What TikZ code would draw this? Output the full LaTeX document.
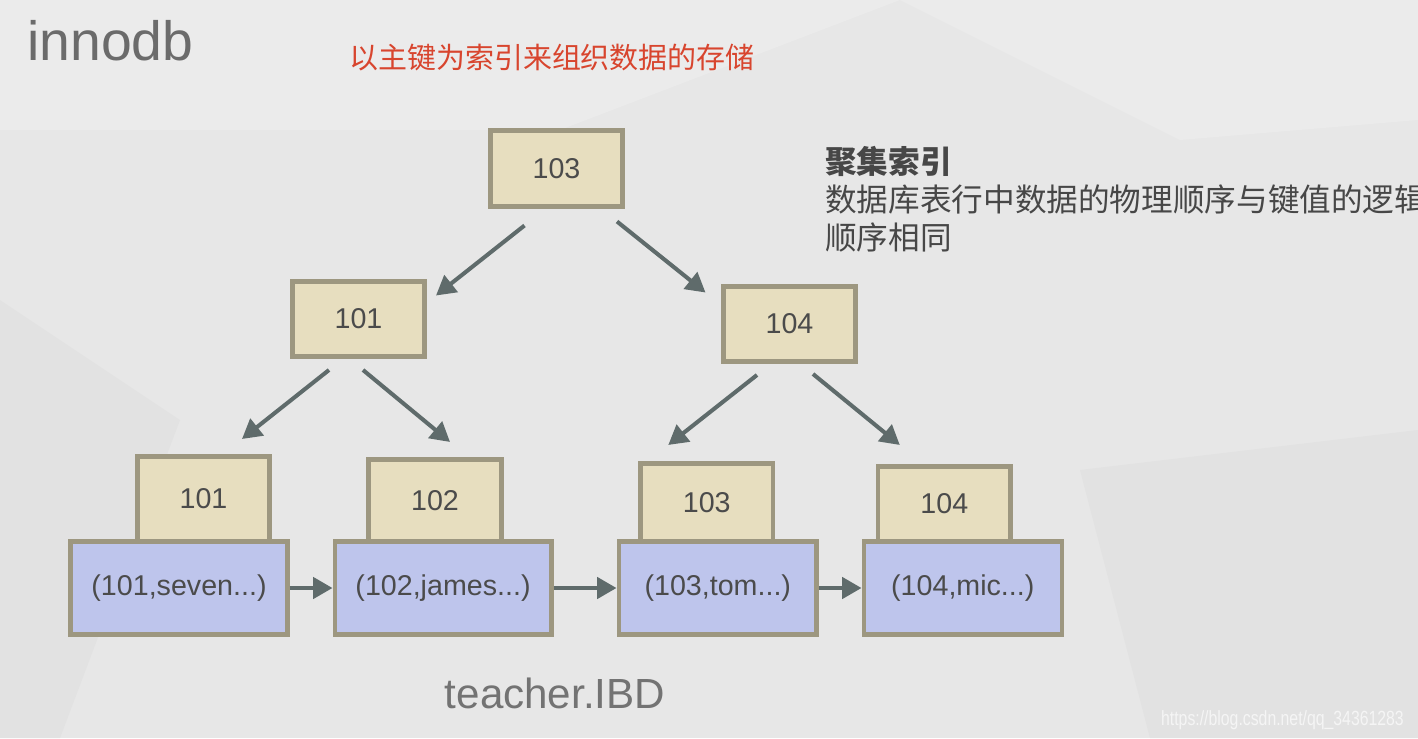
\documentclass[tikz,border=0pt]{standalone}
\usepackage{fontspec}
\setmainfont{Liberation Sans}
\newfontfamily\cjk{Noto Sans CJK SC}
\usetikzlibrary{positioning,calc,arrows.meta}
\definecolor{keyfill}{HTML}{E7DEBF}
\definecolor{recfill}{HTML}{BEC5EC}
\definecolor{boxline}{HTML}{9D9780}
\definecolor{arrowgray}{HTML}{5F6B6B}
\definecolor{txtgray}{HTML}{4B4B4B}
\definecolor{bggray}{HTML}{E7E7E7}
\definecolor{bglight}{HTML}{EBEBEB}
\definecolor{bgdark}{HTML}{E2E2E2}
\definecolor{notered}{HTML}{D8452E}
\tikzset{>={Triangle[length=11pt,width=12pt]}, font=\fontsize{16.3}{16.3}\selectfont}
\tikzstyle{key} = [draw=boxline, fill=keyfill, line width=2.6pt, rectangle, minimum width=2.65cm, minimum height=1.51cm, text=txtgray, inner sep=0pt]
\tikzstyle{record} = [draw=boxline, fill=recfill, line width=2.6pt, rectangle, minimum width=4.33cm, minimum height=1.87cm, text=txtgray, inner sep=0pt]
\tikzstyle{link} = [->, draw=arrowgray, line width=2.3pt]

\begin{document}
\begin{tikzpicture}[x=0.02cm, y={(0cm,-0.02cm)}]
        % background
        \useasboundingbox (0,0) rectangle (1418,738);
        \clip (0,0) rectangle (1418,738);
        \fill [bggray] (0,0) rectangle (1418,738);
        \fill [bglight] (0,0) -- (900,0) -- (560,130) -- (0,130) -- cycle;
        \fill [bglight] (900,0) -- (1418,0) -- (1418,120) -- (1180,140) -- cycle;
        \fill [bgdark] (0,300) -- (180,420) -- (60,738) -- (0,738) -- cycle;
        \fill [bgdark] (1080,470) -- (1418,430) -- (1418,738) -- (1150,738) -- cycle;

        \node [anchor=base west, inner sep=0, text=black!58, font=\fontsize{31.5}{31.5}\selectfont] (title) at (27,60) {innodb};
        \node [text=notered, inner sep=0, font=\cjk\fontsize{16.5}{16.5}\selectfont] (note) at (552,58) {以主键为索引来组织数据的存储};
        \node [anchor=north west, inner sep=0, align=left, text=black!72, font=\cjk\fontsize{18}{21.5}\selectfont] (desc) at (825,146)
            {\textbf{聚集索引}\\数据库表行中数据的物理顺序与键值的逻辑\\顺序相同};

        % index tree
        \node [key] (root) at (556.5,168.5) {103};
        \node [key] (mid101) at (358.5,319) {101};
        \node [key] (mid104) at (789.5,324) {104};

        % leaf level
        \node [record] (rec1) at (179,588) {(101,seven...)};
        \node [record, right=0.86cm of rec1] (rec2) {(102,james...)};
        \node [record, minimum width=3.96cm, right=1.26cm of rec2] (rec3) {(103,tom...)};
        \node [record, minimum width=3.96cm, right=0.85cm of rec3] (rec4) {(104,mic...)};
        \node [key, minimum height=1.70cm, above=-2.6pt of rec1, xshift=0.49cm] (key101) {101};
        \node [key, minimum height=1.64cm, above=-2.6pt of rec2, xshift=-0.16cm] (key102) {102};
        \node [key, minimum height=1.56cm, above=-2.6pt of rec3, xshift=-0.22cm] (key103) {103};
        \node [key, minimum height=1.50cm, above=-2.6pt of rec4, xshift=-0.37cm] (key104) {104};

        \node [text=black!55, font=\fontsize{24}{24}\selectfont] (file) at (555,693) {teacher.IBD};
        \node [anchor=east, text=white!96!black, font=\fontsize{9}{9}\selectfont, yscale=1.3, transform shape] (mark) at (1410,720) {https://blog.csdn.net/qq\_34361283};

        \draw [link] ($(root)+(-32,57)$) -- ($(mid101)+(77.5,-23.5)$);
        \draw [link] ($(root)+(60.5,53)$) -- ($(mid104)+(-84,-31.5)$);
        \draw [link] ($(mid101)+(-29.5,51)$) -- ($(key101)+(38.5,-59.8)$);
        \draw [link] ($(mid101)+(4.5,51)$) -- ($(key102)+(15,-58.3)$);
        \draw [link] ($(mid104)+(-32.5,51)$) -- ($(key103)+(-38.5,-57.3)$);
        \draw [link] ($(mid104)+(23.5,50)$) -- ($(key104)+(-44.5,-58.8)$);

        \draw [link] (rec1) -- (rec2);
        \draw [link] (rec2) -- (rec3);
        \draw [link] (rec3) -- (rec4);
    \end{tikzpicture}
\end{document}
